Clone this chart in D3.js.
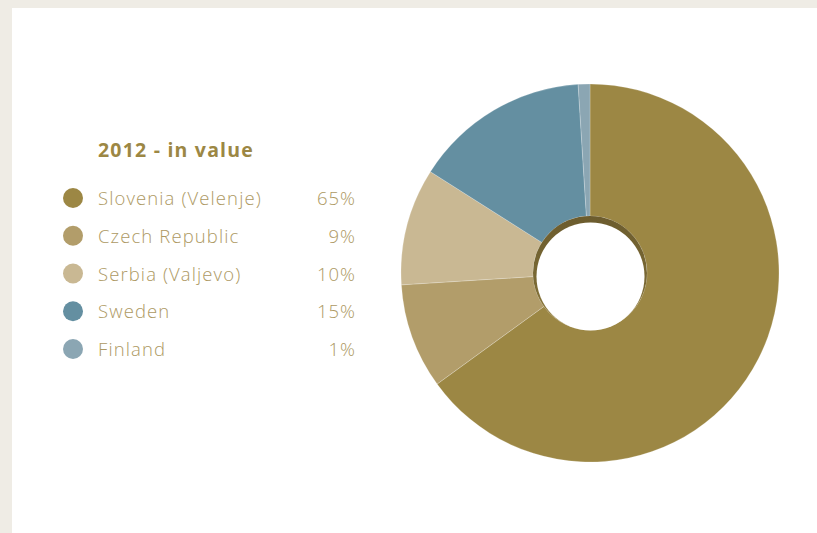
<!DOCTYPE html>
<html>
<head>
<meta charset="utf-8">
<script src="https://cdn.jsdelivr.net/npm/d3@7"></script>
<style>
  html, body { margin: 0; padding: 0; background: #efece5; }
  svg { display: block; }
</style>
</head>
<body>
<svg id="chart" width="817" height="533"></svg>
<script>
// Share of 2012 sales value by production site
const categories = ["Slovenia (Velenje)", "Czech Republic", "Serbia (Valjevo)", "Sweden", "Finland"];
const values = [65, 9, 10, 15, 1];
const valueLabels = ["65%", "9%", "10%", "15%", "1%"];
const colors = ["#9c8744", "#b29d6a", "#c9b893", "#648fa1", "#8ba6b3"];
const title = "2012 - in value";

const svg = d3.select("#chart");
const W = 817, H = 533;
const FONT = "'Open Sans', 'Noto Sans', sans-serif";

// white card
svg.append("rect").attr("x", 12).attr("y", 8).attr("width", W - 12).attr("height", H - 8).attr("fill", "#ffffff");

// legend
const legend = svg.append("g");
legend.append("text")
  .attr("x", 98).attr("y", 157)
  .attr("font-family", FONT)
  .attr("font-weight", 700)
  .attr("font-size", 19.5)
  .attr("letter-spacing", 1.2)
  .attr("fill", "#9c8744")
  .text(title);

const rowY = d3.scalePoint().domain(categories).range([198, 349]);
const rows = legend.selectAll("g.row").data(categories).join("g")
  .attr("class", "row")
  .attr("transform", d => `translate(0,${rowY(d)})`);
rows.append("circle").attr("cx", 73).attr("cy", 0).attr("r", 10)
  .attr("fill", (d, i) => colors[i]);
rows.append("text").attr("x", 98).attr("y", 7)
  .attr("font-family", FONT)
  .attr("font-weight", 300).attr("font-size", 18.5)
  .attr("letter-spacing", 1.1)
  .attr("fill", "#ad9963")
  .text(d => d);
rows.append("text").attr("x", 356).attr("y", 7)
  .attr("text-anchor", "end")
  .attr("font-family", FONT)
  .attr("font-weight", 300).attr("font-size", 18.5)
  .attr("letter-spacing", 1)
  .attr("fill", "#ad9963")
  .text((d, i) => valueLabels[i]);

// donut
const cx = 590, cy = 273, outerR = 189, innerR = 57;
const pie = d3.pie().sort(null).value(d => d.v);
const arcs = pie(categories.map((c, i) => ({ c, v: values[i], col: colors[i] })));
const arc = d3.arc().innerRadius(innerR).outerRadius(outerR);
const g = svg.append("g").attr("transform", `translate(${cx},${cy})`);
g.selectAll("path").data(arcs).join("path")
  .attr("d", arc)
  .attr("fill", d => d.data.col)
  .attr("stroke", "rgba(255,255,255,0.35)")
  .attr("stroke-width", 0.6);

// recessed hole: dark rim with an offset white centre
const defs = svg.append("defs");
const grad = defs.append("linearGradient").attr("id", "rim").attr("x1", 0).attr("y1", 0).attr("x2", 0).attr("y2", 1);
grad.append("stop").attr("offset", "0%").attr("stop-color", "#6c5c2e");
grad.append("stop").attr("offset", "60%").attr("stop-color", "#7a6934");
grad.append("stop").attr("offset", "100%").attr("stop-color", "#9c8744");
g.append("circle").attr("r", innerR).attr("fill", "url(#rim)");
g.append("circle").attr("cx", 0.5).attr("cy", 3.5).attr("r", 54).attr("fill", "#ffffff");
</script>
</body>
</html>
